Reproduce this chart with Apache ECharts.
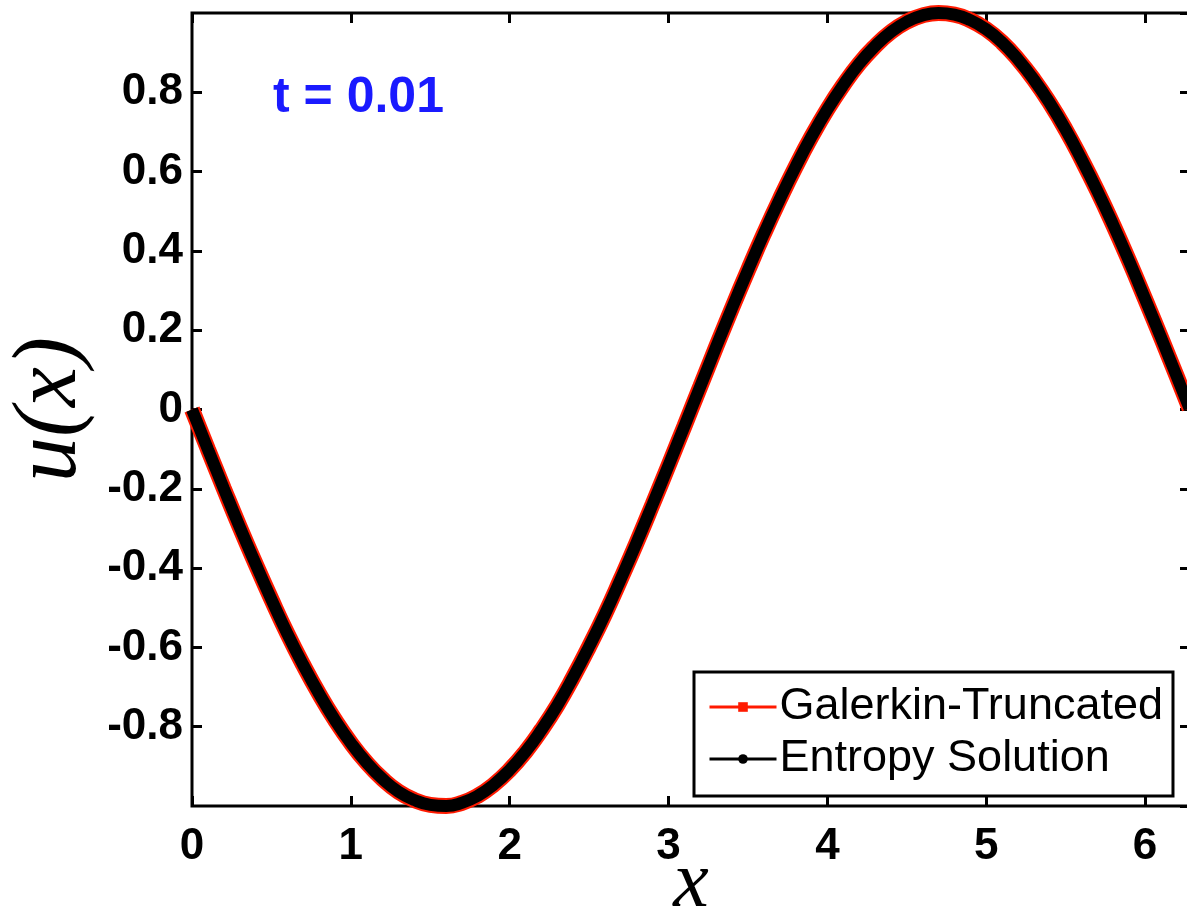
<!DOCTYPE html>
<html>
<head>
<meta charset="utf-8">
<script src="https://cdn.jsdelivr.net/npm/echarts@6/dist/echarts.min.js"></script>
<style>
  html, body { margin: 0; padding: 0; background: #fff; }
  #main { width: 1187px; height: 909px; }
</style>
</head>
<body>
<div id="main"></div>
<script>
// values (t = 0.01, both curves sit on top of each other)
var xVals = [0, 0.1, 0.2, 0.3, 0.4, 0.5, 0.6, 0.7, 0.8, 0.9, 1.0, 1.1, 1.2, 1.3, 1.4, 1.5, 1.6, 1.7, 1.8, 1.9,
  2.0, 2.1, 2.2, 2.3, 2.4, 2.5, 2.6, 2.7, 2.8, 2.9, 3.0, 3.1, 3.2, 3.3, 3.4, 3.5, 3.6, 3.7, 3.8, 3.9,
  4.0, 4.1, 4.2, 4.3, 4.4, 4.5, 4.6, 4.7, 4.8, 4.9, 5.0, 5.1, 5.2, 5.3, 5.4, 5.5, 5.6, 5.7, 5.8, 5.9,
  6.0, 6.1, 6.2, 6.28];
var galerkin = [0, -0.100, -0.199, -0.296, -0.389, -0.479, -0.565, -0.644, -0.717, -0.783, -0.841, -0.891, -0.932, -0.964, -0.985, -0.997, -1.000, -0.992, -0.974, -0.946,
  -0.909, -0.863, -0.808, -0.746, -0.675, -0.598, -0.516, -0.427, -0.335, -0.239, -0.141, -0.042, 0.058, 0.158, 0.256, 0.351, 0.443, 0.530, 0.612, 0.688,
  0.757, 0.818, 0.872, 0.916, 0.952, 0.978, 0.994, 1.000, 0.996, 0.982, 0.959, 0.926, 0.883, 0.832, 0.773, 0.706, 0.631, 0.551, 0.465, 0.374,
  0.279, 0.182, 0.083, 0.003];
var entropy = [0, -0.100, -0.199, -0.296, -0.389, -0.479, -0.565, -0.644, -0.717, -0.783, -0.841, -0.891, -0.932, -0.964, -0.985, -0.997, -1.000, -0.992, -0.974, -0.946,
  -0.909, -0.863, -0.808, -0.746, -0.675, -0.598, -0.516, -0.427, -0.335, -0.239, -0.141, -0.042, 0.058, 0.158, 0.256, 0.351, 0.443, 0.530, 0.612, 0.688,
  0.757, 0.818, 0.872, 0.916, 0.952, 0.978, 0.994, 1.000, 0.996, 0.982, 0.959, 0.926, 0.883, 0.832, 0.773, 0.706, 0.631, 0.551, 0.465, 0.374,
  0.279, 0.182, 0.083, 0.003];
var seriesNames = ['Galerkin-Truncated', 'Entropy Solution'];
var timeLabel = 't = 0.01';

function pairs(xs, ys) {
  var out = [];
  for (var i = 0; i < xs.length; i++) out.push([xs[i], ys[i]]);
  return out;
}

var myChart = echarts.init(document.getElementById('main'), null, { renderer: 'canvas' });
var tickFont = { fontFamily: 'Liberation Sans', fontSize: 44, fontWeight: 'bold', color: '#000' };
var tickStyle = { inside: true, length: 10, lineStyle: { color: '#000', width: 3 } };

var option = {
  backgroundColor: '#fff',
  animation: false,
  title: {
    text: timeLabel,
    left: 268,
    top: 68,
    textStyle: { fontFamily: 'Liberation Sans', fontSize: 50, fontWeight: 'bold', color: '#1a1aff' }
  },
  grid: {
    left: 192,
    top: 13,
    width: 998,
    bottom: 103,
    containLabel: false,
    outerBoundsMode: 'none',
    show: true,
    borderColor: '#000',
    borderWidth: 3,
    backgroundColor: 'transparent'
  },
  legend: {
    orient: 'vertical',
    left: 694,
    top: 672,
    padding: [10, 10, 12, 14],
    itemGap: 2,
    itemWidth: 67,
    itemHeight: 12,
    borderColor: '#000',
    borderWidth: 3,
    backgroundColor: '#fff',
    textStyle: { fontFamily: 'Liberation Sans', fontSize: 45, lineHeight: 50, color: '#000', padding: [0, 0, 0, -2] },
    data: [
      { name: seriesNames[0], lineStyle: { width: 3, color: '#ff1a00' }, itemStyle: { color: '#ff1a00' } },
      { name: seriesNames[1], lineStyle: { width: 3, color: '#000' }, itemStyle: { color: '#000' } }
    ]
  },
  xAxis: [{
    type: 'value',
    min: 0,
    max: 6.283,
    interval: 1,
    position: 'bottom',
    name: 'x',
    nameLocation: 'middle',
    nameGap: 39,
    nameMoveOverlap: false,
    nameTextStyle: { fontFamily: 'Liberation Serif', fontStyle: 'italic', fontSize: 80, color: '#000' },
    axisLine: { show: false, onZero: false },
    axisTick: tickStyle,
    axisLabel: Object.assign({ margin: 19, showMaxLabel: false }, tickFont),
    splitLine: { show: false }
  }, {
    type: 'value',
    min: 0,
    max: 6.283,
    interval: 1,
    position: 'top',
    axisLine: { show: false, onZero: false },
    axisTick: tickStyle,
    axisLabel: { show: false },
    splitLine: { show: false }
  }],
  yAxis: [{
    type: 'value',
    min: -1,
    max: 1,
    interval: 0.2,
    position: 'left',
    name: 'u(x)',
    nameLocation: 'middle',
    nameRotate: 90,
    nameGap: 95,
    nameTextStyle: { fontFamily: 'Liberation Serif', fontStyle: 'italic', fontSize: 90, color: '#000' },
    axisLine: { show: false, onZero: false },
    axisTick: tickStyle,
    axisLabel: Object.assign({ margin: 9, showMinLabel: false, showMaxLabel: false }, tickFont),
    splitLine: { show: false }
  }, {
    type: 'value',
    min: -1,
    max: 1,
    interval: 0.2,
    position: 'right',
    axisLine: { show: false, onZero: false },
    axisTick: tickStyle,
    axisLabel: { show: false },
    splitLine: { show: false }
  }],
  series: [{
    name: seriesNames[0],
    type: 'line',
    smooth: true,
    clip: false,
    symbol: 'rect',
    showSymbol: false,
    z: 2,
    lineStyle: { color: '#ff1a00', width: 16 },
    itemStyle: { color: '#ff1a00' },
    data: pairs(xVals, galerkin)
  }, {
    name: seriesNames[1],
    type: 'line',
    smooth: true,
    clip: false,
    symbol: 'circle',
    showSymbol: false,
    z: 3,
    lineStyle: { color: '#000', width: 12 },
    itemStyle: { color: '#000' },
    data: pairs(xVals, entropy)
  }]
};
myChart.setOption(option);
</script>
</body>
</html>
